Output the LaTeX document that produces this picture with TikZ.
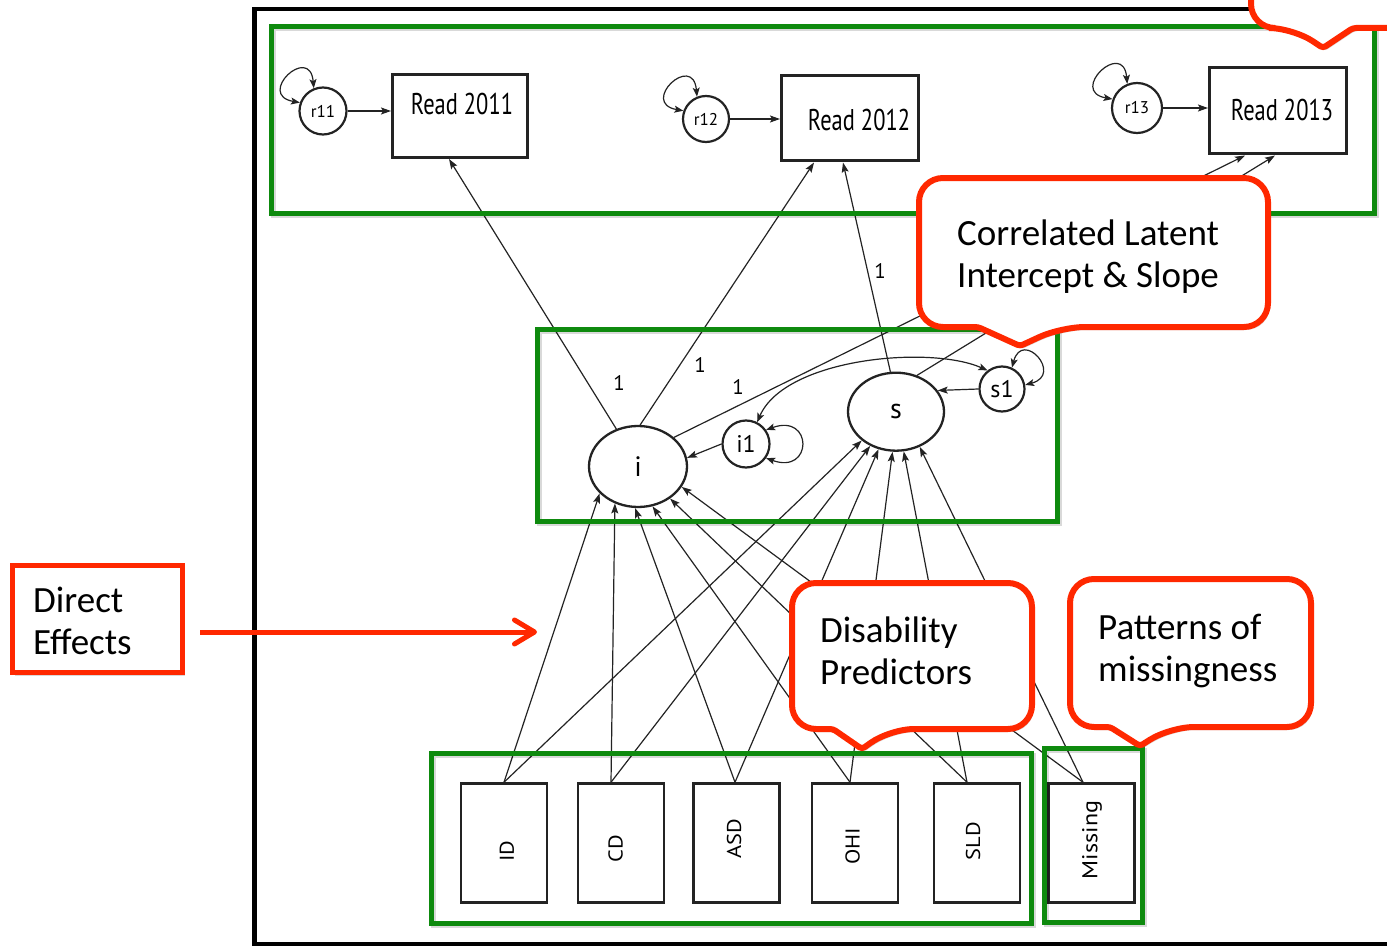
\documentclass[tikz,border=0pt]{standalone}
\usepackage{fontspec}
\setmainfont{Carlito}
\newfontfamily\dfont[FakeStretch=0.75]{PT Sans}
\newfontfamily\rfont{PT Sans}
\newfontfamily\vfont[FakeStretch=1.12]{PT Sans}
\usetikzlibrary{arrows.meta,shapes.geometric,shadows}
\definecolor{grn}{RGB}{14,138,14}
\definecolor{redc}{RGB}{255,40,0}
\definecolor{ink}{RGB}{35,35,35}
\begin{document}
\begin{tikzpicture}[x=1pt,y=-1pt,
  con/.style={draw=ink,line width=1.2pt,-{Stealth[length=10pt,width=7pt,inset=2pt]}},
  var/.style={draw=ink,line width=1.2pt,{Stealth[length=9pt,width=7pt,inset=2pt]}-{Stealth[length=9pt,width=7pt,inset=2pt]}},
  obsbox/.style={rectangle,draw=ink,line width=3pt,fill=white,inner sep=0pt},
  predbox/.style={rectangle,draw=ink,line width=2.5pt,fill=white,inner sep=0pt,minimum width=86pt,minimum height=119pt},
  lat/.style={ellipse,draw=ink,line width=2.3pt,fill=white,inner sep=0pt,font=\rfont\fontsize{28}{32}\selectfont},
  res/.style={circle,draw=ink,line width=2.2pt,fill=white,inner sep=0pt},
  rlbl/.style={font=\rfont\fontsize{17}{20}\selectfont},
  rdtext/.style={inner sep=0pt,font=\dfont\fontsize{30}{36}\selectfont},
  vtext/.style={inner sep=0pt,rotate=90,font=\vfont\fontsize{20}{24}\selectfont},
  onelbl/.style={inner sep=0pt,font=\rfont\fontsize{21}{24}\selectfont},
  grnbox/.style={draw=grn,line width=5pt},
  grnshadow/.style={draw=black,opacity=0.15,line width=5pt},
  callout/.style={draw=redc,line width=6pt,fill=white,rounded corners=24pt,
     drop shadow={opacity=0.3,shadow xshift=2pt,shadow yshift=-3pt}},
  ctext/.style={inner sep=0pt,align=left,anchor=base west,font=\fontsize{37}{42}\selectfont}
]
\useasboundingbox (0,0) rectangle (1387,947);
\clip (0,0) rectangle (1387,947);

% outer frame
\draw[line width=4.5pt] (254.5,9) rectangle (1420,944);

% observed reading scores
\node[obsbox,minimum width=135pt,minimum height=83pt] (read1) at (460,116) {};
\node[rdtext] (read1t) at (462,104) {Read 2011};
\node[obsbox,minimum width=137pt,minimum height=85pt] (read2) at (850,118.5) {};
\node[rdtext] (read2t) at (859,120) {Read 2012};
\node[obsbox,minimum width=137pt,minimum height=86pt] (read3) at (1278,111) {};
\node[rdtext] (read3t) at (1282,110) {Read 2013};

% residuals
\node[res,minimum size=47pt,rlbl] (r11) at (323,111) {r11};
\node[res,minimum size=46pt,rlbl] (r12) at (706,119) {r12};
\node[res,minimum size=50pt,rlbl] (r13) at (1137,108) {r13};

% latent growth factors
\node[lat,minimum width=98pt,minimum height=81pt] (i) at (638,466.5) {i};
\node[lat,minimum width=96pt,minimum height=78pt] (s) at (896,411.7) {s};
\node[res,minimum size=47pt,font=\rfont\fontsize{24}{28}\selectfont] (i1) at (746,444) {i1};
\node[res,minimum size=45pt,font=\rfont\fontsize{24}{28}\selectfont] (s1) at (1002,389) {s1};

% predictors
\node[predbox] (ID) at (504,843) {};
\node[predbox] (CD) at (621,843) {};
\node[predbox] (ASD) at (736.5,843) {};
\node[predbox] (OHI) at (855,843) {};
\node[predbox] (SLD) at (977,843) {};
\node[predbox] (Miss) at (1091.5,843) {};
\node[vtext] (IDt) at (507,851) {ID};
\node[vtext] (CDt) at (615.5,849) {CD};
\node[vtext] (ASDt) at (734,839) {ASD};
\node[vtext] (OHIt) at (852.5,846.5) {OHI};
\node[vtext] (SLDt) at (973,841) {SLD};
\node[vtext,font=\vfont\fontsize{21.5}{24}\selectfont] (Misst) at (1092,840) {Missing};

% residual paths
\draw[con] (r11.east) -- (read1.west |- r11.east);
\draw[con] (r12.east) -- (read2.west |- r12.east);
\draw[con] (r13.east) -- (read3.west |- r13.east);
\draw[var] (r11.160) .. controls +(170:45pt) and +(95:45pt) .. (r11.112);
\draw[var] (r12.160) .. controls +(170:45pt) and +(95:45pt) .. (r12.112);
\draw[var] (r13.160) .. controls +(170:45pt) and +(95:45pt) .. (r13.112);

% loadings
\draw[con] (i.120) -- ([xshift=-11pt]read1.south);
\draw[con] (i.87) -- ([xshift=-36pt]read2.south);
\draw[con] (i.39) -- ([xshift=-33pt]read3.south);
\draw[con] (s.98) -- ([xshift=-7pt]read2.south);
\draw[con] (s.60) -- ([xshift=-3pt]read3.south);
\node[onelbl] (one1) at (619,383) {1};
\node[onelbl] (one2) at (700,365) {1};
\node[onelbl] (one3) at (738,387) {1};
\node[onelbl] (one4) at (880,271) {1};

% disturbances
\draw[con] (i1.west) -- (i.10);
\draw[con] (s1.west) -- (s.27);
\draw[var] (i1.35) .. controls +(20:50pt) and +(-20:50pt) .. (i1.-35);
\draw[var] (s1.65) .. controls +(75:40pt) and +(15:40pt) .. (s1.10);
\draw[var] (i1.63) .. controls (785,358) and (930,345) .. (s1.128);

% predictor paths
\draw[con] (ID.north) -- (i.215);
\draw[con] (ID.north) -- (s.220);
\draw[con] ([xshift=-10pt]CD.north) -- (i.238);
\draw[con] ([xshift=-10pt]CD.north) -- (s.233);
\draw[con] ([xshift=-1.5pt]ASD.north) -- (i.266);
\draw[con] ([xshift=-1.5pt]ASD.north) -- (s.245);
\draw[con] ([xshift=-5pt]OHI.north) -- (i.290);
\draw[con] ([xshift=-5pt]OHI.north) -- (s.265);
\draw[con] ([xshift=-10pt]SLD.north) -- (i.315);
\draw[con] ([xshift=-10pt]SLD.north) -- (s.281);
\draw[con] ([xshift=-8.5pt]Miss.north) -- (i.335);
\draw[con] ([xshift=-8.5pt]Miss.north) -- (s.304);

% green group boxes
\begin{scope}[shift={(2,2)}]
\draw[grnshadow] (271,27) rectangle (1374,213);
\draw[grnshadow] (537.5,329) rectangle (1057.5,521.5);
\draw[grnshadow] (431,753) rectangle (1031.5,923.5);
\draw[grnshadow] (1044.5,748.5) rectangle (1142,922);
\end{scope}
\draw[grnbox] (271,27) rectangle (1374,213);
\draw[grnbox] (537.5,329) rectangle (1057.5,521.5);
\draw[grnbox] (431,753) rectangle (1031.5,923.5);
\draw[grnbox] (1044.5,748.5) rectangle (1142,922);

% callouts
\draw[callout] (1251,-100) -- (1251,28) -- (1293,28) [rounded corners=3pt] -- (1323,48) -- (1353,28) [rounded corners=24pt] -- (1500,28) -- (1500,-100) -- cycle;
\draw[callout] (1100,178) -- (1268,178) -- (1268,327) -- (1061,327) [rounded corners=3pt] -- (1020,346) -- (978,327) [rounded corners=24pt] -- (919,327) -- (919,178) -- cycle;
\node[ctext] (corrT) at (957,287) {Correlated Latent\\Intercept \& Slope};
\draw[callout] (900,583) -- (1032,583) -- (1032,729) -- (890,729) [rounded corners=3pt] -- (862,749) -- (833,729) [rounded corners=24pt] -- (792,729) -- (792,583) -- cycle;
\node[ctext] (disT) at (820,684) {Disability\\Predictors};
\draw[callout] (1200,579) -- (1311,579) -- (1311,727) -- (1170,727) [rounded corners=3pt] -- (1140,746) -- (1110,727) [rounded corners=24pt] -- (1070,727) -- (1070,579) -- cycle;
\node[ctext] (patT) at (1098,681) {Patterns of\\missingness};

% direct effects
\node[rectangle,draw=redc,line width=5pt,fill=white,minimum width=170pt,minimum height=107pt,inner sep=0pt,
  drop shadow={opacity=0.3,shadow xshift=2pt,shadow yshift=-3pt}] (direct) at (97.5,619) {};
\node[ctext] (dirT) at (33,654) {Direct\\Effects};
\coordinate (deTip) at (537,632);
\draw[draw=redc,line width=5pt,-{Straight Barb[length=20pt,width=24pt,round]}] ([xshift=15pt]direct.east |- deTip) -- (deTip);
\end{tikzpicture}
\end{document}
